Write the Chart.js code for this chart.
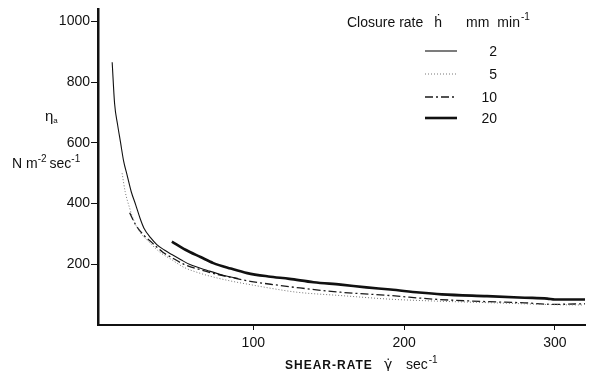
<!DOCTYPE html>
<html><head><meta charset="utf-8">
<script src="https://cdn.jsdelivr.net/npm/chart.js@4.4.0/dist/chart.umd.min.js"></script>
<style>html,body{margin:0;padding:0;background:#fff}canvas{display:block}</style>
</head><body>
<canvas id="c" width="591" height="371"></canvas>
<script>
// ---- data ----
const seriesLabels = ['2', '5', '10', '20'];
const x2  = [6.4, 8, 10, 12, 14, 16.3, 19, 22, 25, 27.4, 32, 36, 41, 46, 52, 58, 70, 80, 90];
const y2  = [866, 730, 660, 600, 540, 494, 440, 396, 350, 320, 287, 265, 247, 232, 215, 199, 179, 164, 153];
const x5  = [13, 15, 18, 21, 25, 32, 38, 45, 54, 65, 76, 87, 98, 114, 129, 158, 191, 220, 260, 300, 318];
const y5  = [500, 440, 385, 341, 305, 268, 240, 218, 190, 170, 155, 143, 133, 119, 108, 97, 85, 79, 73, 67, 66];
const x10 = [18, 22, 27, 32, 40, 46, 54, 65, 76, 87, 98, 115, 131, 158, 191, 220, 255, 280, 299, 320];
const y10 = [370, 330, 298, 275, 240, 222, 200, 182, 167, 155, 144, 132, 122, 108, 97, 85, 77, 73, 68, 70];
const x20 = [46, 55, 65, 73.5, 85, 96, 110, 124, 140, 158, 175, 191, 210, 225, 255, 280, 295, 300, 320];
const y20 = [275, 248, 224, 204, 186, 171, 160, 152, 141, 133, 124, 117, 107, 101, 95, 90, 87, 84, 84];
const xTicks = [100, 200, 300];
const yTicks = [200, 400, 600, 800, 1000];

const pts = (xs, ys) => xs.map((x, i) => ({x: x, y: ys[i]}));
const styles = [
  {borderColor: '#111111', borderWidth: 1.1, borderDash: []},
  {borderColor: '#777777', borderWidth: 1,   borderDash: [1, 2]},
  {borderColor: '#1a1a1a', borderWidth: 1.3, borderDash: [8, 3, 2, 3]},
  {borderColor: '#111111', borderWidth: 2.6, borderDash: []}
];
const allData = [pts(x2, y2), pts(x5, y5), pts(x10, y10), pts(x20, y20)];
const datasets = allData.map((d, i) => Object.assign({
  label: seriesLabels[i], data: d, pointRadius: 0, fill: false,
  cubicInterpolationMode: 'monotone'
}, styles[i]));

function runs(ctx, x, y, parts) {
  for (const p of parts) {
    ctx.font = p.font;
    const yy = y + (p.dy || 0);
    ctx.fillText(p.t, x, yy);
    x += ctx.measureText(p.t).width + (p.gap || 0);
  }
}

const FONT = '"Liberation Sans", Arial, sans-serif';
const decor = {
  id: 'decor',
  beforeDraw(chart) {
    const ctx = chart.ctx;
    ctx.save(); ctx.fillStyle = '#fff'; ctx.fillRect(0, 0, chart.width, chart.height); ctx.restore();
  },
  afterDraw(chart) {
    const ctx = chart.ctx;
    ctx.save();
    ctx.fillStyle = '#111';
    ctx.textBaseline = 'alphabetic';
    ctx.textAlign = 'left';
    // y-axis title
    runs(ctx, 45, 121, [
      {t: 'η', font: '15px ' + FONT},
      {t: 'a', font: '8px ' + FONT, dy: 2}
    ]);
    runs(ctx, 12, 168, [
      {t: 'N m', font: '14px ' + FONT},
      {t: '-2', font: '10px ' + FONT, dy: -6, gap: 3},
      {t: 'sec', font: '14px ' + FONT},
      {t: '-1', font: '10px ' + FONT, dy: -6}
    ]);
    // x-axis title
    ctx.letterSpacing = '1px';
    runs(ctx, 285, 369, [{t: 'SHEAR-RATE', font: 'bold 12px ' + FONT}]);
    ctx.letterSpacing = '0px';
    runs(ctx, 384, 369, [{t: 'γ̇', font: '14px "DejaVu Sans", sans-serif'}]);
    runs(ctx, 406, 369, [
      {t: 'sec', font: '14px ' + FONT, gap: 1},
      {t: '-1', font: '10px ' + FONT, dy: -6}
    ]);
    // legend header
    runs(ctx, 347, 27, [
      {t: 'Closure rate', font: '14px ' + FONT, gap: 11},
      {t: 'ḣ', font: '14px ' + FONT, gap: 24},
      {t: 'mm', font: '14px ' + FONT, gap: 8},
      {t: 'min', font: '14px ' + FONT, gap: 1},
      {t: '-1', font: '10px ' + FONT, dy: -7}
    ]);
    // legend rows
    const rowsY = [51, 74, 97, 118];
    chart.data.datasets.forEach((ds, i) => {
      const y = rowsY[i];
      ctx.save();
      ctx.strokeStyle = ds.borderColor;
      ctx.lineWidth = ds.borderWidth;
      ctx.setLineDash(ds.borderDash);
      ctx.beginPath(); ctx.moveTo(425, y); ctx.lineTo(457, y); ctx.stroke();
      ctx.restore();
      ctx.font = '14px ' + FONT;
      ctx.textAlign = 'right';
      ctx.textBaseline = 'middle';
      ctx.fillText(ds.label, 497, y + 1);
    });
    ctx.restore();
  }
};

new Chart(document.getElementById('c'), {
  type: 'line',
  data: {datasets: datasets},
  plugins: [decor],
  options: {
    responsive: false, animation: false, devicePixelRatio: 1,
    layout: {padding: {top: 8, right: 6, left: 0, bottom: 0}},
    plugins: {legend: {display: false}, tooltip: {enabled: false}},
    scales: {
      x: {
        type: 'linear', min: -3, max: 320,
        afterBuildTicks: s => { s.ticks = xTicks.map(v => ({value: v})); },
        afterFit: s => { s.height = 46; },
        grid: {display: true, drawOnChartArea: false, drawTicks: true, tickLength: 5, tickColor: '#111', tickWidth: 1},
        border: {display: true, color: '#111', width: 2},
        ticks: {color: '#111', font: {family: FONT, size: 14}, padding: 5, maxRotation: 0, autoSkip: false,
                callback: v => String(v)}
      },
      y: {
        type: 'linear', min: 0, max: 1040,
        afterBuildTicks: s => { s.ticks = yTicks.map(v => ({value: v})); },
        afterFit: s => { s.width = 98; },
        grid: {display: true, drawOnChartArea: false, drawTicks: true, tickLength: 7, tickColor: '#111', tickWidth: 1},
        border: {display: true, color: '#111', width: 2.5},
        ticks: {color: '#111', font: {family: FONT, size: 14}, padding: 1, autoSkip: false,
                callback: v => String(v)}
      }
    }
  }
});
</script>
</body></html>
